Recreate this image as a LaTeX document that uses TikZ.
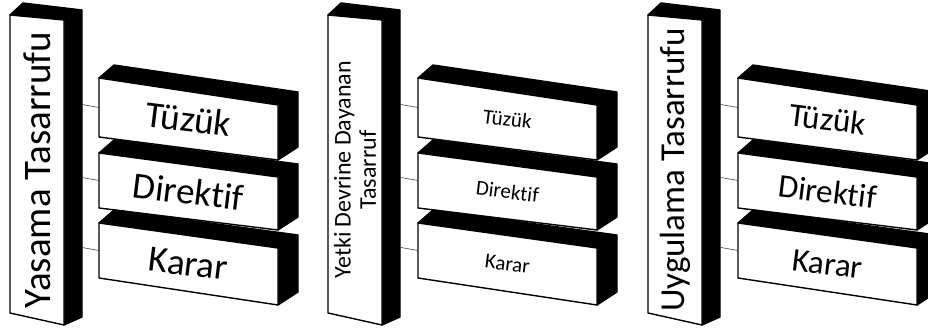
\documentclass[tikz,border=0pt]{standalone}
\usepackage{fontspec}
\setmainfont{Carlito}[Ligatures={NoCommon}]
\usepackage{tikz}
\usetikzlibrary{calc}

% pillar: name, x offset, font size, line skip, text
\newcommand{\pillar}[5]{%
  \coordinate (#1-tl) at ({#2+10},15);
  \coordinate (#1-tr) at ({#2+64},20);
  \coordinate (#1-br) at ({#2+64},325);
  \coordinate (#1-bl) at ({#2+10},313);
  \filldraw[dark] (#1-tl) -- ++(13,-12) -- ($(#1-tr)+(18,-10)$)
    -- ($(#1-br)+(18,-8)$) -- (#1-br) -- (#1-tr) -- cycle;
  \draw[face] (#1-tl) -- (#1-tr) -- (#1-br) -- (#1-bl) -- cycle;
  \node[label text,rotate=90,align=center,font=\fontsize{#3}{#4}\selectfont]
    (#1) at ($(#1-tl)!0.5!(#1-br)$) {#5};
}

% slab: name, x offset, y of tl, bl, tr, br, font size, text
\newcommand{\slab}[8]{%
  \coordinate (#1-tl) at ({#2+99},#3);
  \coordinate (#1-bl) at ({#2+99},#4);
  \coordinate (#1-tr) at ({#2+278},#5);
  \coordinate (#1-br) at ({#2+278},#6);
  \filldraw[dark] (#1-tl) -- ++(15,-13) -- ($(#1-tr)+(20,-13)$)
    -- ($(#1-br)+(20,-13)$) -- (#1-br) -- (#1-tr) -- cycle;
  \draw[face] (#1-tl) -- (#1-tr) -- (#1-br) -- (#1-bl) -- cycle;
  \node[label text,rotate=-7,font=\fontsize{#7}{#7}\selectfont]
    (#1) at ($(#1-tl)!0.5!(#1-br)$) {#8};
  \coordinate (#1-in) at ($(#1-tl)!0.5!(#1-bl)$);
  \coordinate (#1-out) at ($(#1-in)+(-17,-3)$);
  \draw[link] (#1-out) -- (#1-in);
}

\tikzset{
  face/.style={draw=black, fill=white, line width=1.4pt, line join=round},
  dark/.style={draw=black, fill=black, line width=1.4pt, line join=round},
  link/.style={draw=black!75, line width=0.6pt},
  label text/.style={inner sep=0pt, text=black}
}

\begin{document}
\begin{tikzpicture}[x=1pt,y=-1pt]
  \useasboundingbox (0,0) rectangle (928,329);

  % Yasama
  \pillar{ya}{0}{39}{40}{Yasama Tasarrufu}
  \slab{ya-tz}{0}{78}{137}{105}{160}{37}{Tüzük}
  \slab{ya-dr}{0}{153}{208}{177}{230}{37}{Direktif}
  \slab{ya-kr}{0}{223}{278}{248}{305}{37}{Karar}

  % Yetki devri
  \pillar{yd}{318}{24}{25}{Yetki Devrine Dayanan\\Tasarruf}
  \slab{yd-tz}{319}{78}{137}{105}{160}{21}{Tüzük}
  \slab{yd-dr}{319}{153}{208}{177}{230}{21}{Direktif}
  \slab{yd-kr}{319}{223}{278}{248}{305}{21}{Karar}

  % Uygulama
  \pillar{ug}{638}{35}{36}{Uygulama Tasarrufu}
  \slab{ug-tz}{639}{78}{137}{105}{160}{33}{Tüzük}
  \slab{ug-dr}{639}{153}{208}{177}{230}{33}{Direktif}
  \slab{ug-kr}{639}{223}{278}{248}{305}{33}{Karar}
\end{tikzpicture}
\end{document}
